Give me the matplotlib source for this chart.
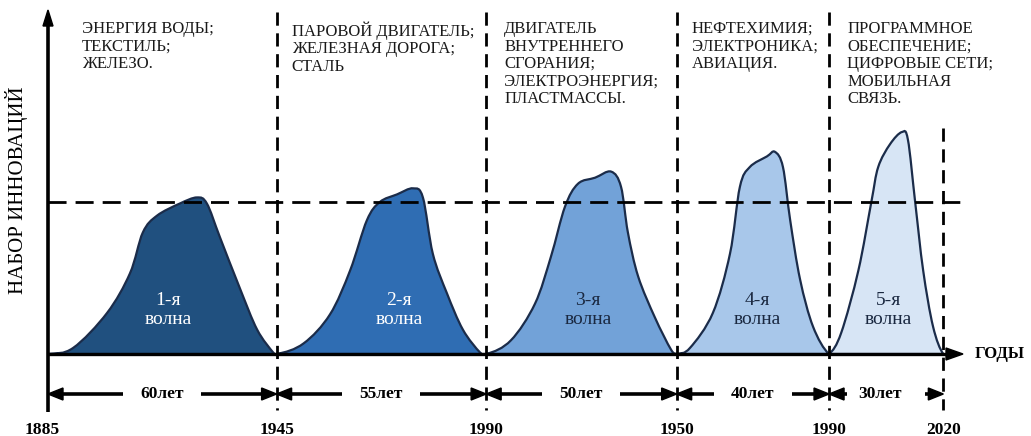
import numpy as np
import matplotlib
matplotlib.use("Agg")
import matplotlib.pyplot as plt
from matplotlib.path import Path
from matplotlib.patches import PathPatch, Polygon

plt.rcParams['lines.scale_dashes'] = False

# ---------------- data ----------------
durations = [60, 55, 50, 40, 30]                      # years per wave
year_labels = ["1885", "1945", "1990", "1950", "1990", "2020"]
duration_labels = ["60лет", "55лет", "50лет", "40лет", "30лет"]
wave_labels = ["1-я\nволна", "2-я\nволна", "3-я\nволна", "4-я\nволна", "5-я\nволна"]
sector_texts = [
    "ЭНЕРГИЯ ВОДЫ;\nТЕКСТИЛЬ;\nЖЕЛЕЗО.",
    "ПАРОВОЙ ДВИГАТЕЛЬ;\nЖЕЛЕЗНАЯ ДОРОГА;\nСТАЛЬ",
    "ДВИГАТЕЛЬ\nВНУТРЕННЕГО\nСГОРАНИЯ;\nЭЛЕКТРОЭНЕРГИЯ;\nПЛАСТМАССЫ.",
    "НЕФТЕХИМИЯ;\nЭЛЕКТРОНИКА;\nАВИАЦИЯ.",
    "ПРОГРАММНОЕ\nОБЕСПЕЧЕНИЕ;\nЦИФРОВЫЕ СЕТИ;\nМОБИЛЬНАЯ\nСВЯЗЬ.",
]
threshold = 1.0

# wave outlines: x in years from 1885 (cumulative), y in level
wave1_x = [0, 6.6, 15.5, 21.5, 24.9, 28.6, 34.6, 39.1, 41.7, 45.1, 50.4, 54.9, 59.1, 60]
wave1_y = [0, 0.04, 0.27, 0.53, 0.80, 0.91, 0.99, 1.03, 0.99, 0.77, 0.43, 0.16, 0.01, 0]
wave2_x = [60, 67.1, 74.0, 79.3, 83.7, 87.1, 91.6, 95.8, 98.4, 101.0, 104.7, 108.9, 113.4, 115]
wave2_y = [0, 0.07, 0.26, 0.55, 0.88, 1.00, 1.05, 1.09, 1.03, 0.66, 0.40, 0.16, 0.01, 0]
wave3_x = [115, 121.5, 127.8, 132.0, 135.7, 139.1, 143.6, 147.8, 150.4, 152.2, 154.9, 159.3, 163.5, 165]
wave3_y = [0, 0.09, 0.33, 0.64, 0.97, 1.12, 1.16, 1.20, 1.10, 0.80, 0.51, 0.24, 0.03, 0]
wave4_x = [165, 168.5, 174.5, 179.0, 181.6, 184.2, 188.7, 190.8, 192.9, 194.8, 197.4, 200.8, 205]
wave4_y = [0, 0.04, 0.27, 0.66, 1.10, 1.23, 1.30, 1.33, 1.23, 0.88, 0.49, 0.18, 0]
wave5_x = [205, 208.2, 212.7, 216.1, 217.9, 221.0, 224.1, 225.7, 227.6, 229.7, 232.3, 235]
wave5_y = [0, 0.14, 0.55, 1.00, 1.23, 1.38, 1.46, 1.41, 1.00, 0.55, 0.18, 0]

waves_x = [wave1_x, wave2_x, wave3_x, wave4_x, wave5_x]
waves_y = [wave1_y, wave2_y, wave3_y, wave4_y, wave5_y]
wave_colors = ["#20507f", "#2f6db3", "#72a2d8", "#a8c7ea", "#d7e5f5"]
label_colors = ["white", "white", "#1a2840", "#1a2840", "#1a2840"]
edge_color = "#1b2c4a"

# ---------------- layout ----------------
W, H = 1031, 436
X0_PX, PX_PER_YEAR = 48, 3.81
Y0_PX, PX_PER_LEVEL = 354, 152
label_x_px = [168, 399, 588, 757, 888]


def dx(px):
    return (px - X0_PX) / PX_PER_YEAR


def dy(py):
    return (Y0_PX - py) / PX_PER_LEVEL


fig = plt.figure(figsize=(W / 100, H / 100), dpi=100)
ax = fig.add_axes([0, 0, 1, 1])
ax.set_xlim(dx(0), dx(W))
ax.set_ylim(dy(H), dy(0))
ax.axis("off")

serif = ["Liberation Serif", "DejaVu Serif"]
bounds = np.concatenate([[0], np.cumsum(durations)])


def smooth_path(xs, ys):
    pts = np.column_stack([xs, ys]).astype(float)
    n = len(pts)
    pre = pts[0] - np.array([pts[1, 0] - pts[0, 0], 0.0])
    post = pts[-1] + np.array([pts[-1, 0] - pts[-2, 0], 0.0])
    ext = np.vstack([pre, pts, post])
    verts = [tuple(pts[0])]
    codes = [Path.MOVETO]
    for i in range(1, n):
        p0, p1, p2, p3 = ext[i - 1], ext[i], ext[i + 1], ext[i + 2]
        c1 = p1 + (p2 - p0) / 6.0
        c2 = p2 - (p3 - p1) / 6.0
        verts += [tuple(c1), tuple(c2), tuple(p2)]
        codes += [Path.CURVE4] * 3
    verts.append(tuple(pts[0]))
    codes.append(Path.CLOSEPOLY)
    return Path(verts, codes)


# waves
for i in range(5):
    path = smooth_path(waves_x[i], waves_y[i])
    ax.add_patch(PathPatch(path, facecolor=wave_colors[i], edgecolor=edge_color,
                           lw=1.6, zorder=2))
    ax.text(dx(label_x_px[i]), dy(310), wave_labels[i], ha="center", va="center",
            color=label_colors[i], fontsize=14, family=serif,
            linespacing=1.1, zorder=5)

# dashed verticals
for i, b in enumerate(bounds[1:]):
    top = dy(12) if i < 4 else dy(128)
    ax.plot([b, b], [top, dy(410)], color="black", lw=2,
            linestyle=(0, (9.5, 5.5)), zorder=3)

# dashed threshold line
ax.plot([0, dx(960)], [threshold, threshold], color="black", lw=2,
        linestyle=(0, (13, 6.5)), zorder=3)

# axes lines
ax.plot([0, 0], [dy(412), dy(24)], color="black", lw=2.6, zorder=4, solid_capstyle="butt")
ax.add_patch(Polygon([[dx(43), dy(26)], [dx(53), dy(26)], [dx(48), dy(10)]],
                     closed=True, color="black", zorder=4))
ax.plot([0, dx(948)], [0, 0], color="black", lw=2.4, zorder=4, solid_capstyle="butt")
ax.add_patch(Polygon([[dx(946), dy(348)], [dx(946), dy(360)], [dx(963), dy(354)]],
                     closed=True, color="black", zorder=4))

# duration arrows
ARROW_Y = dy(394)
gap = dx(48 + 39) - dx(48)
head_len = dx(48 + 15) - dx(48)
head_h = 6 / PX_PER_LEVEL
for i in range(5):
    a, b = bounds[i], bounds[i + 1]
    c = (a + b) / 2.0
    ax.text(c - (1.5 if i == 4 else 0), ARROW_Y, duration_labels[i], ha="center", va="center",
            fontsize=12.5, fontweight="bold", family=serif, zorder=5)
    for tip, start in ((a, c - gap), (b, c + gap)):
        sgn = 1 if tip > start else -1
        base = tip - sgn * head_len
        if abs(start - tip) > head_len:
            ax.plot([start, base], [ARROW_Y, ARROW_Y], color="black", lw=2.6,
                    solid_capstyle="butt", zorder=4)
        ax.add_patch(Polygon([[base, ARROW_Y - head_h], [base, ARROW_Y + head_h],
                              [tip, ARROW_Y]], closed=True, color="black", zorder=4))

# year labels
for i, lab in enumerate(year_labels):
    x = bounds[i] - (1.5 if i == 0 else 0)
    ax.text(x, dy(430), lab, ha="center", va="center", fontsize=12.5,
            fontweight="bold", family=serif)

# sector texts
text_offsets_px = [34, 15, 18, 15, 18]
for i, txt in enumerate(sector_texts):
    ax.text(bounds[i] + text_offsets_px[i] / PX_PER_YEAR, dy(21), txt,
            ha="left", va="top", fontsize=12, family=serif, linespacing=1.13,
            color="#1a1a1a")

# axis titles
ax.text(dx(17), dy(190), "НАБОР ИННОВАЦИЙ", rotation=90, ha="center", va="center",
        fontsize=15, family=serif)
ax.text(dx(975), 0, "ГОДЫ", ha="left", va="center", fontsize=12,
        fontweight="bold", family=serif)

fig.savefig("out.png", dpi=100)
